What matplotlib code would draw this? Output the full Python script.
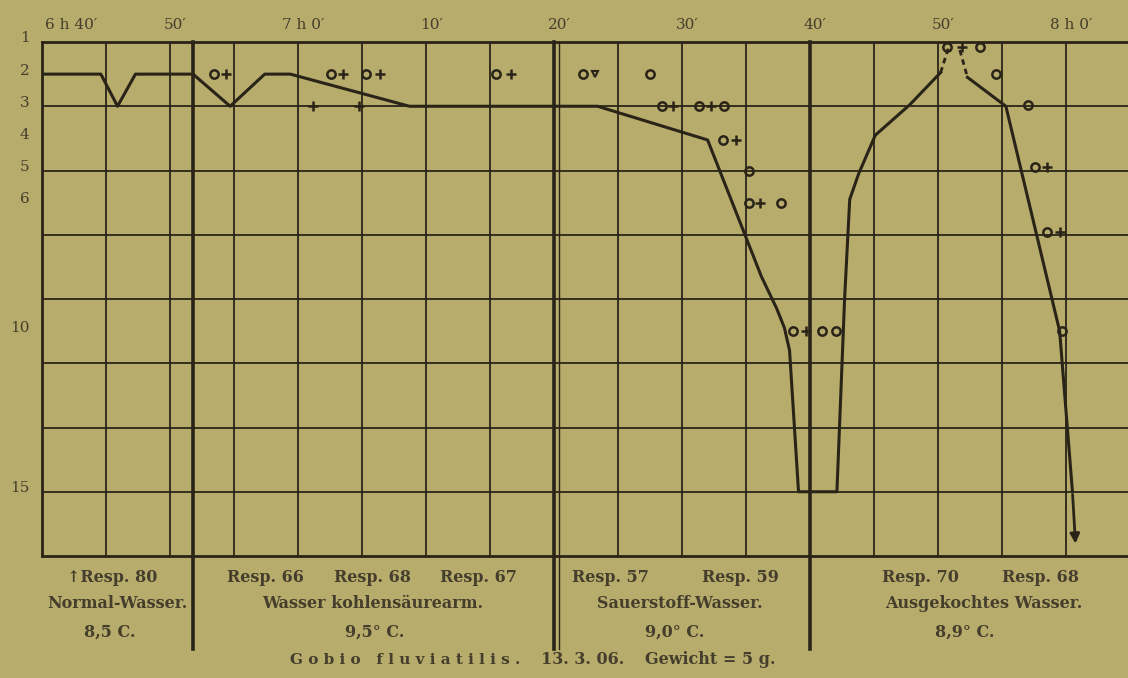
import matplotlib.pyplot as plt
from matplotlib.transforms import ScaledTranslation

# Zeit in Minuten nach 6 h 40', Wert auf der Ordinate (1 oben, 17 unten)
kurve_min = [0, 4.6, 5.9, 7.3, 11.8, 14.7, 17.4, 19.4, 28.7, 43.4, 52.0, 56.2, 57.4,
             58.0, 58.4, 59.1, 62.1, 62.7, 63.1, 63.8, 65.1, 67.8, 70.2]
kurve_wert = [2, 2, 3, 2, 2, 3, 2, 2, 3, 3, 4.05, 8.3, 9.3,
              9.9, 10.6, 15.0, 15.0, 9.0, 5.9, 5.1, 3.9, 2.95, 1.95]
gestr_links_min = [70.2, 70.8]
gestr_links_wert = [1.95, 1.2]
gestr_rechts_min = [71.7, 72.3]
gestr_rechts_wert = [1.25, 2.1]
ende_min = [72.3, 75.3, 79.5, 80.0, 80.5]
ende_wert = [2.1, 3.0, 10.0, 12.5, 15.0]
pfeil_spitze = (80.75, 16.7)

# Beobachtungszeichen "o"
kreis_min = [13.4, 22.6, 25.3, 35.5, 42.3, 47.5, 48.4, 51.3, 53.3, 53.2, 55.2, 55.2,
             57.7, 58.7, 60.9, 62.0, 70.7, 73.3, 74.5, 77.0, 77.6, 78.5, 79.7]
kreis_wert = [2, 2, 2, 2, 2, 2, 3, 3, 3, 4.05, 5.0, 6.0,
              6.0, 10.0, 10.0, 10.0, 1.15, 1.15, 2.0, 2.95, 4.9, 6.9, 10.0]
# Beobachtungszeichen "+"
plus_min = [14.4, 23.5, 26.4, 36.6, 21.2, 24.8, 49.3, 52.3, 54.2, 56.1, 59.7, 71.9,
            78.5, 79.5]
plus_wert = [2, 2, 2, 2, 3, 3, 3, 3, 4.05, 6.0, 10.0, 1.15, 4.9, 6.9]
haken_min = [43.2]
haken_wert = [2.0]

# Trennlinien der Versuchsabschnitte
trenn_min = [11.8, 40.0, 60.0]

x_ticks = [0, 10, 20, 30, 40, 50, 60, 70, 80]
x_labels = ["6 h 40′", "50′", "7 h 0′", "10′", "20′", "30′", "40′", "50′", "8 h 0′"]
y_ticks = [1, 2, 3, 4, 5, 6, 10, 15]

papier = '#b7ac6c'
tinte = '#2a2418'
schrift = '#453e2c'

fig = plt.figure(figsize=(11.28, 6.78), dpi=100)
fig.patch.set_facecolor(papier)
ax = fig.add_axes([42 / 1128, 1 - 556 / 678, 1 - 42 / 1128, 514 / 678])
ax.set_facecolor(papier)
ax.set_xlim(0, 84.84)
ax.set_ylim(17, 1)

# Gitter
for x in range(5, 85, 5):
    ax.axvline(x, color=tinte, lw=1.3, zorder=1)
for y in range(3, 17, 2):
    ax.axhline(y, color=tinte, lw=1.3, zorder=1)
for s in ['top', 'bottom', 'left']:
    ax.spines[s].set_linewidth(2.0)
    ax.spines[s].set_color(tinte)
ax.spines['right'].set_visible(False)

# Trennlinien (bis unter die Tafel)
for x in trenn_min:
    ax.plot([x, x], [1, 19.9], color=tinte, lw=2.6, clip_on=False, zorder=2)
ax.plot([40.35, 40.35], [1, 19.9], color=tinte, lw=1.0, clip_on=False, zorder=2)

# Kurve
ax.plot(kurve_min, kurve_wert, color=tinte, lw=2.2, zorder=3)
ax.plot(gestr_links_min, gestr_links_wert, color=tinte, lw=2.0, ls=(0, (2, 1.5)), zorder=3)
ax.plot(gestr_rechts_min, gestr_rechts_wert, color=tinte, lw=2.0, ls=(0, (2, 1.5)), zorder=3)
ax.plot(ende_min, ende_wert, color=tinte, lw=2.2, zorder=3)
ax.annotate('', xy=pfeil_spitze, xytext=(ende_min[-1], ende_wert[-1]),
            arrowprops=dict(arrowstyle='-|>', color=tinte, lw=2.0, mutation_scale=14),
            annotation_clip=False, zorder=3)

# Zeichen
ax.plot(kreis_min, kreis_wert, 'o', ms=6, mfc='none', mec=tinte, mew=1.8, zorder=4)
ax.plot(plus_min, plus_wert, '+', ms=7, mec=tinte, mew=1.8, zorder=4)
ax.plot(haken_min, haken_wert, 'v', ms=5, mfc='none', mec=tinte, mew=1.5, zorder=4)

# Achsenbeschriftung oben
ax.set_xticks([])
hoch = ScaledTranslation(0, 0.1, fig.dpi_scale_trans)
for x, lab in zip(x_ticks, x_labels):
    xx = x + 2.3 if x == 0 else x + 0.4
    ax.text(xx, 1.0, lab, ha='center', va='bottom', fontsize=11, color=schrift,
            family='DejaVu Serif', transform=ax.transData + hoch)

ax.set_yticks(y_ticks)
ax.set_yticklabels([str(v) for v in y_ticks], family='DejaVu Serif', fontsize=11,
                   color=schrift)
ax.tick_params(axis='y', length=0, pad=9)
for lab in ax.get_yticklabels():
    lab.set_transform(lab.get_transform() + ScaledTranslation(0, 0.05, fig.dpi_scale_trans))

# Legende unten
kw = dict(family='DejaVu Serif', fontsize=11.5, color=schrift, ha='center', va='center',
          fontweight='bold')
def ftext(px, py, s, **extra):
    d = dict(kw)
    d.update(extra)
    fig.text(px / 1128, 1 - py / 678, s, **d)

ftext(112, 578, '↑Resp. 80')
ftext(117, 604, 'Normal-Wasser.')
ftext(110, 632, '8,5 C.')
ftext(265, 578, 'Resp. 66')
ftext(373, 578, 'Resp. 68')
ftext(478, 578, 'Resp. 67')
ftext(373, 604, 'Wasser kohlensäurearm.')
ftext(375, 632, '9,5° C.')
ftext(610, 578, 'Resp. 57')
ftext(740, 578, 'Resp. 59')
ftext(680, 604, 'Sauerstoff-Wasser.')
ftext(675, 632, '9,0° C.')
ftext(920, 578, 'Resp. 70')
ftext(1040, 578, 'Resp. 68')
ftext(984, 604, 'Ausgekochtes Wasser.')
ftext(965, 632, '8,9° C.')
ftext(405, 660, 'G o b i o   f l u v i a t i l i s .', fontsize=11)
ftext(583, 660, '13. 3. 06.')
ftext(710, 660, 'Gewicht = 5 g.')

fig.savefig('out.png', dpi=100, facecolor=papier)
